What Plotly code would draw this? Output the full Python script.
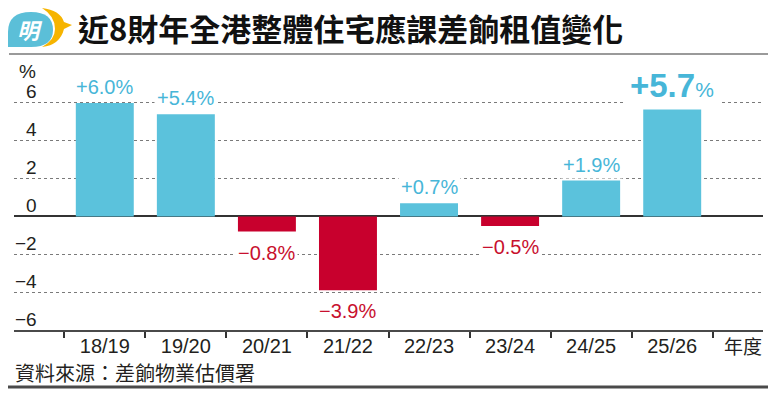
import plotly.graph_objects as go

# ---- data ----
categories = ["18/19", "19/20", "20/21", "21/22", "22/23", "23/24", "24/25", "25/26"]
values = [6.0, 5.4, -0.8, -3.9, 0.7, -0.5, 1.9, 5.7]
value_labels = ["+6.0%", "+5.4%", "−0.8%", "−3.9%", "+0.7%", "−0.5%", "+1.9%", "+5.7%"]
y_ticks = [6, 4, 2, 0, -2, -4, -6]
y_tick_text = ["6", "4", "2", "0", "−2", "−4", "−6"]
title_text = "近8財年全港整體住宅應課差餉租值變化"
source_text = "資料來源：差餉物業估價署"
x_unit = "年度"
y_unit = "%"

BLUE = "#5bc2dc"
RED = "#c8002d"
BLUE_T = "#47b6d8"
RED_T = "#c8102e"
INK = "#231f20"
NUM_FONT = "Liberation Sans, Arial, sans-serif"
CJK_FONT = "Noto Sans CJK TC, sans-serif"

W, H = 780, 398
L, R, T, B = 14, 763, 84, 330


def px2x(px):
    return (px - L) / (R - L)


def py2y(py):
    return (B - py) / (B - T)


colors = [BLUE if v >= 0 else RED for v in values]

fig = go.Figure()
fig.add_trace(go.Bar(x=categories, y=values, marker=dict(color=colors, line=dict(width=0)),
                     hoverinfo="skip"))

annotations = []
# value labels
for i, (c, v, t) in enumerate(zip(categories, values, value_labels)):
    if i == len(categories) - 1:
        txt = ("<b><span style='font-size:33px'>" + t[:-1] + "</span></b>"
               "<span style='font-size:21px'>%</span>")
        annotations.append(dict(x=c, y=v, xref="x", yref="y", text=txt, showarrow=False,
                                yanchor="middle", yshift=23, bgcolor="white", borderpad=5,
                                font=dict(family=NUM_FONT, color=BLUE_T, size=20)))
    elif v >= 0:
        annotations.append(dict(x=c, y=v, xref="x", yref="y", text=t, showarrow=False,
                                yanchor="middle", yshift=16, bgcolor="white", borderpad=2,
                                font=dict(family=NUM_FONT, color=BLUE_T, size=20)))
    else:
        annotations.append(dict(x=c, y=v, xref="x", yref="y", text=t, showarrow=False,
                                yanchor="middle", yshift=-21, bgcolor="white", borderpad=2,
                                font=dict(family=NUM_FONT, color=RED_T, size=20)))

# y tick labels (sitting above gridlines)
for yv, yt in zip(y_ticks, y_tick_text):
    annotations.append(dict(x=px2x(39), y=yv, xref="paper", yref="y", text=yt, showarrow=False,
                            xanchor="right", yanchor="middle", yshift=11,
                            font=dict(family=NUM_FONT, color=INK, size=19)))
annotations.append(dict(x=px2x(38), y=py2y(71), xref="paper", yref="paper", text=y_unit,
                        showarrow=False, xanchor="right", yanchor="middle",
                        font=dict(family=NUM_FONT, color=INK, size=19)))
annotations.append(dict(x=px2x(743), y=py2y(345), xref="paper", yref="paper", text=x_unit,
                        showarrow=False, xanchor="center", yanchor="middle",
                        font=dict(family=CJK_FONT, color=INK, size=19)))
# title
annotations.append(dict(x=px2x(76), y=py2y(27), xref="paper", yref="paper",
                        text="<b>" + title_text + "</b>", showarrow=False,
                        xanchor="left", yanchor="middle",
                        font=dict(family=CJK_FONT, color="#111111", size=31)))
# source
annotations.append(dict(x=px2x(13), y=py2y(372), xref="paper", yref="paper", text=source_text,
                        showarrow=False, xanchor="left", yanchor="middle",
                        font=dict(family=CJK_FONT, color=INK, size=20)))
# logo glyph
annotations.append(dict(x=px2x(30), y=py2y(29), xref="paper", yref="paper",
                        text="<b><i>明</i></b>", showarrow=False,
                        xanchor="center", yanchor="middle",
                        font=dict(family=CJK_FONT, color="white", size=22)))


def P(px, py):
    return f"{px2x(px):.5f},{py2y(py):.5f}"


shapes = [
    # title rule
    dict(type="line", xref="paper", yref="paper", x0=px2x(9), x1=px2x(768), y0=py2y(54), y1=py2y(54),
         line=dict(color="#9a9a9a", width=2)),
    # bottom rule
    dict(type="line", xref="paper", yref="paper", x0=px2x(8), x1=px2x(768), y0=py2y(387), y1=py2y(387),
         line=dict(color="#4a4a4a", width=3)),
    # logo orange crescent
    dict(type="path", xref="paper", yref="paper",
         path=(f"M {P(42,8)} Q {P(60,10)} {P(64,22)} L {P(72,25)} L {P(64,29)} "
               f"Q {P(60,45)} {P(42,47)} Q {P(55,40)} {P(55,29)} Q {P(55,16)} {P(42,8)} Z"),
         fillcolor="#f6b400", line=dict(width=0)),
    # logo blue bubble
    dict(type="path", xref="paper", yref="paper",
         path=(f"M {P(31,12)} Q {P(53,12)} {P(53,30)} Q {P(53,47)} {P(31,47)} "
               f"L {P(8,47)} L {P(8,32)} Q {P(8,12)} {P(31,12)} Z"),
         fillcolor="#5bbfd8", line=dict(width=0)),
]

fig.update_layout(
    width=W, height=H,
    margin=dict(l=L, r=W - R, t=T, b=H - B, pad=0),
    paper_bgcolor="white", plot_bgcolor="white",
    showlegend=False, bargap=0.285,
    annotations=annotations, shapes=shapes,
    xaxis=dict(type="category", range=[-1.12, 8.12], showgrid=False, zeroline=False,
               showline=True, linecolor="#4a4a4a", linewidth=2, mirror=False,
               ticks="outside", tickson="boundaries", ticklen=6, tickwidth=1.5, tickcolor="#333333",
               ticklabelstandoff=-3,
               tickfont=dict(family=NUM_FONT, color=INK, size=20), fixedrange=True),
    yaxis=dict(range=[-6, 7], tickvals=y_ticks, showticklabels=False, ticks="",
               showgrid=True, gridcolor="#7a7a7a", griddash="dot", gridwidth=1,
               zeroline=True, zerolinecolor="#333333", zerolinewidth=1.5,
               showline=False, fixedrange=True),
)

fig.write_html("out.html", config={"displayModeBar": False},
               post_script="document.body.style.margin='0';document.body.style.overflow='hidden';")
